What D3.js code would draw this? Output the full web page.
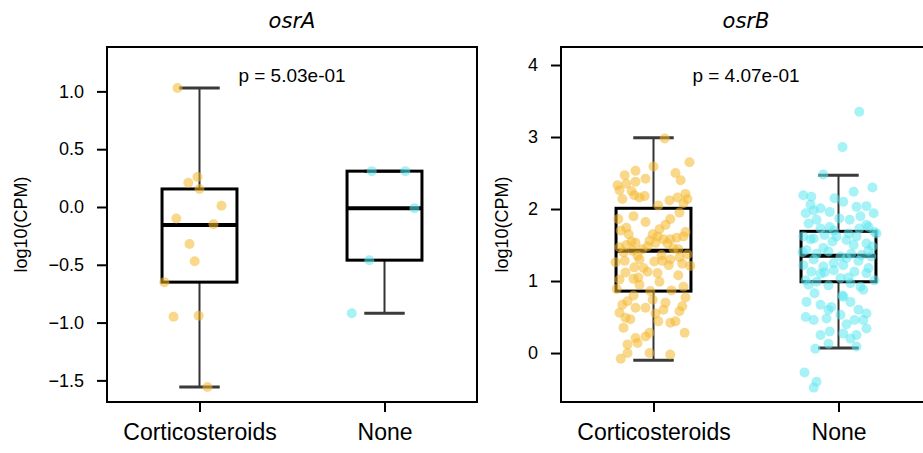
<!DOCTYPE html>
<html><head><meta charset="utf-8">
<script src="https://cdn.jsdelivr.net/npm/d3@7"></script>
<style>body{margin:0;background:#fff}</style>
</head><body><svg id="c" width="923" height="453"></svg>
<script>
// ---- data ----
const panelTitles = ["osrA", "osrB"];
const groups = ["Corticosteroids", "None"];
const pTexts = ["p = 5.03e-01", "p = 4.07e-01"];
const yTicksA = [-1.5, -1.0, -0.5, 0.0, 0.5, 1.0];
const yTicksB = [0, 1, 2, 3, 4];
const yDomainA = [-1.687, 1.384];
const yDomainB = [-0.68, 4.25];
// box stats: [lower whisker, q1, median, q3, upper whisker]
const statsA_Cort = [-1.557, -0.65, -0.156, 0.156, 1.03];
const statsA_None = [-0.92, -0.46, -0.01, 0.31, 0.31];
const statsB_Cort = [-0.10, 0.86, 1.42, 2.01, 2.99];
const statsB_None = [0.07, 0.99, 1.35, 1.69, 2.47];
// points: values and horizontal jitter (fraction)
const valsA_Cort = [1.03, 0.26, 0.21, 0.155, 0.01, -0.10, -0.15, -0.32, -0.47, -0.65, -0.95, -0.94, -1.557];
const jitA_Cort  = [-0.55, -0.05, -0.28, 0.0, 0.55, -0.58, 0.35, -0.25, -0.12, -0.88, -0.65, -0.02, 0.2];
const valsA_None = [0.31, 0.31, -0.01, -0.46, -0.92];
const jitA_None  = [-0.32, 0.52, 0.75, -0.38, -0.82];
const valsB_Cort = [2.98, 2.65, 2.59, 2.47, 2.53, 2.42, 2.50, 2.40, 2.33, 2.35, 2.38, 2.26, 2.14, 2.19, 2.16, 2.18, 2.12, 2.16, 2.21, 2.14,
  1.95, 1.86, 1.82, 1.86, 1.74, 1.65, 1.72, 1.65, 1.68, 1.60, 1.58, 1.58, 1.53, 1.56, 1.53, 1.50, 1.47, 1.44, 1.42, 1.37,
  1.33, 1.30, 1.28, 1.27, 1.30, 1.28, 1.26, 1.19, 1.21, 1.24, 1.12, 1.13, 1.11, 1.02, 1.03, 0.95, 0.99, 0.87, 0.86, 0.89,
  0.72, 0.74, 0.77, 0.65, 0.67, 0.63, 0.56, 0.49, 0.47, 0.63, 0.60, 0.58, 0.44, 0.42, 0.44, 0.28, 0.28, 0.21, 0.23, 0.14,
  -0.08, 0.00, 0.00, -0.02, 1.90, 1.78, 1.70, 1.62, 1.48, 1.45, 1.40, 1.36, 1.22, 1.18, 1.08, 1.05, 0.92, 0.80, 0.70, 2.05,
  2.25, 2.08, 1.55, 0.35, 1.52, 1.44, 1.35, 1.62, 0.55, 0.12];
const jitB_Cort = [0.28, 0.9, 0.0, -0.72, -0.45, -0.2, 0.55, 0.68, -0.9, -0.68, -0.45, -0.85, -0.78, -0.48, -0.35, -0.22, 0.4, 0.6, 0.8, 0.85,
  0.65, 0.42, -0.2, -0.88, -0.68, -0.62, 0.15, -0.02, 0.8, 0.58, 0.42, 0.25, 0.05, -0.1, -0.45, -0.68, -0.85, -0.28, -0.52, 0.85,
  0.65, 0.42, 0.22, 0.02, -0.35, -0.72, -0.95, -0.48, 0.92, 0.72, -0.7, -0.15, 0.1, -0.85, -0.5, -0.35, 0.15, 0.45, -0.08, -0.92,
  -0.65, -0.02, 0.8, 0.72, -0.78, -0.45, -0.85, -0.7, -0.58, -0.2, 0.25, 0.65, 0.12, 0.42, 0.55, 0.78, -0.1, -0.45, -0.2, -0.4,
  -0.82, -0.65, -0.1, 0.42, -0.5, 0.3, -0.82, 0.75, -0.15, 0.5, -0.75, 0.2, 0.38, -0.25, 0.62, -0.38, 0.75, -0.5, 0.3, 0.12,
  -0.55, 0.75, -0.55, -0.75, 0.35, 0.62, -0.4, 0.1, 0.05, -0.65];
const valsB_None = [3.35, 2.86, 2.48, 2.30, 2.19, 2.17, 2.01, 2.15, 2.24, 2.03, 2.04, 1.94, 1.94, 1.96, 1.87, 1.85, 1.80, 1.73, 1.75, 1.73,
  1.75, 1.66, 1.62, 1.59, 1.64, 1.62, 1.57, 1.62, 1.52, 1.43, 1.38, 1.41, 1.34, 1.38, 1.36, 1.34, 1.22, 1.13, 1.20, 1.15,
  1.22, 1.13, 1.11, 1.01, 1.01, 0.99, 0.94, 1.04, 0.97, 0.92, 0.83, 0.71, 0.67, 0.64, 0.78, 0.71, 0.60, 0.55, 0.50, 0.46,
  0.48, 0.53, 0.46, 0.46, 0.25, 0.30, 0.27, 0.25, 0.34, 0.06, 0.13, 0.09, -0.27, -0.40, -0.48, 1.70, 1.66, 1.58, 1.50, 1.46,
  1.42, 1.30, 1.28, 1.25, 1.18, 1.10, 1.05, 0.95, 0.88, 2.10, 1.85, 0.60, 0.40, 1.78, 1.98, 1.48, 1.55, 1.32, 1.40, 1.90,
  0.80, 1.12, 2.06, 0.20, 1.68];
const jitB_None = [0.52, 0.1, -0.38, 0.85, -0.88, -0.68, -0.45, -0.1, 0.38, 0.45, 0.7, 0.88, -0.82, -0.22, 0.02, 0.28, -0.75, -0.45, -0.22, 0.52,
  0.75, 0.95, -0.88, -0.62, -0.35, -0.05, 0.2, 0.45, 0.7, -0.8, -0.55, -0.25, 0.05, 0.32, 0.58, 0.82, -0.88, -0.68, -0.38, -0.12,
  0.12, 0.4, 0.7, 0.9, -0.82, -0.55, -0.25, 0.05, 0.3, 0.55, -0.6, -0.8, -0.45, -0.18, 0.12, 0.3, 0.5, 0.7, -0.82, -0.62,
  -0.3, 0.05, 0.4, 0.62, -0.45, -0.22, 0.12, 0.45, 0.7, -0.58, -0.25, 0.45, -0.85, -0.55, -0.62, -0.12, 0.25, -0.7, 0.38, -0.38,
  0.75, -0.62, 0.5, -0.12, 0.75, -0.45, 0.25, -0.75, 0.62, 0.12, -0.55, -0.25, 0.2, 0.7, -0.62, 0.85, -0.15, 0.2, -0.9, 0.55,
  0.1, -0.35, -0.7, 0.3, 0.9];
const groupColors = ["#F4B82C", "#5CE8EE"];

// ---- layout ----
const svg = d3.select("#c");
const panelLeft = [107, 561];
const panelW = 370, plotTop = 47, plotBottom = 402;
const font = "'Liberation Sans', Arial, sans-serif";

const panels = [
  {title: panelTitles[0], p: pTexts[0], ticks: yTicksA, domain: yDomainA, fmt: d3.format(".1f"),
   stats: [statsA_Cort, statsA_None], vals: [valsA_Cort, valsA_None], jit: [jitA_Cort, jitA_None]},
  {title: panelTitles[1], p: pTexts[1], ticks: yTicksB, domain: yDomainB, fmt: d3.format("d"),
   stats: [statsB_Cort, statsB_None], vals: [valsB_Cort, valsB_None], jit: [jitB_Cort, jitB_None]}
];

panels.forEach((P, pi) => {
  const g = svg.append("g").attr("transform", `translate(${panelLeft[pi]},0)`);
  const x = d3.scalePoint().domain(groups).range([0, panelW]).padding(0.5);
  const y = d3.scaleLinear().domain(P.domain).range([plotBottom, plotTop]);
  const boxW = x.step() * 0.405;
  const capW = boxW * 0.54;
  const jitW = x.step() * 0.216;

  // boxes
  groups.forEach((grp, gi) => {
    const [lo, q1, med, q3, hi] = P.stats[gi];
    const cx = x(grp);
    g.append("line").attr("x1", cx).attr("x2", cx).attr("y1", y(q3)).attr("y2", y(hi))
      .attr("stroke", "#333").attr("stroke-width", 2);
    g.append("line").attr("x1", cx).attr("x2", cx).attr("y1", y(q1)).attr("y2", y(lo))
      .attr("stroke", "#333").attr("stroke-width", 2);
    [lo, hi].forEach(v => g.append("line").attr("x1", cx - capW/2).attr("x2", cx + capW/2)
      .attr("y1", y(v)).attr("y2", y(v)).attr("stroke", "#3a3a3a").attr("stroke-width", 3));
    g.append("rect").attr("x", cx - boxW/2).attr("y", y(q3)).attr("width", boxW).attr("height", y(q1) - y(q3))
      .attr("fill", "none").attr("stroke", "#000").attr("stroke-width", 3);
    g.append("line").attr("x1", cx - boxW/2).attr("x2", cx + boxW/2).attr("y1", y(med)).attr("y2", y(med))
      .attr("stroke", "#000").attr("stroke-width", 4);
  });

  // points
  groups.forEach((grp, gi) => {
    const pts = P.vals[gi].map((v, i) => ({v, j: P.jit[gi][i]}));
    g.append("g").selectAll("circle").data(pts).join("circle")
      .attr("cx", d => x(grp) + d.j * jitW)
      .attr("cy", d => y(d.v))
      .attr("r", 5)
      .attr("fill", groupColors[gi])
      .attr("fill-opacity", 0.55);
  });

  // frame
  g.append("rect").attr("x", 0).attr("y", plotTop).attr("width", panelW).attr("height", plotBottom - plotTop)
    .attr("fill", "none").attr("stroke", "#000").attr("stroke-width", 2);

  // y axis
  const ya = g.append("g").call(d3.axisLeft(y).tickValues(P.ticks).tickFormat(P.fmt).tickSize(10).tickPadding(13));
  ya.select(".domain").remove();
  ya.selectAll("line").attr("stroke", "#000").attr("stroke-width", 2);
  ya.selectAll("text").attr("font-family", font).attr("font-size", 18).attr("fill", "#000");

  // x axis
  const xa = g.append("g").attr("transform", `translate(0,${plotBottom})`)
    .call(d3.axisBottom(x).tickSize(10).tickPadding(12));
  xa.select(".domain").remove();
  xa.selectAll("line").attr("stroke", "#000").attr("stroke-width", 2);
  xa.selectAll("text").attr("font-family", font).attr("font-size", 23).attr("fill", "#000");

  // title
  g.append("text").attr("x", panelW/2).attr("y", 28).attr("text-anchor", "middle")
    .attr("font-family", "'DejaVu Sans', sans-serif").attr("font-style", "italic").attr("font-size", 21)
    .text(P.title);
  // p value
  g.append("text").attr("x", panelW/2).attr("y", 82).attr("text-anchor", "middle")
    .attr("font-family", font).attr("font-size", 19).text(P.p);
  // y label
  g.append("text").attr("transform", `translate(${pi === 0 ? -85 : -58},${(plotTop + plotBottom)/2}) rotate(-90)`)
    .attr("text-anchor", "middle").attr("dominant-baseline", "middle")
    .attr("font-family", font).attr("font-size", 18).text("log10(CPM)");
});
</script></body></html>
